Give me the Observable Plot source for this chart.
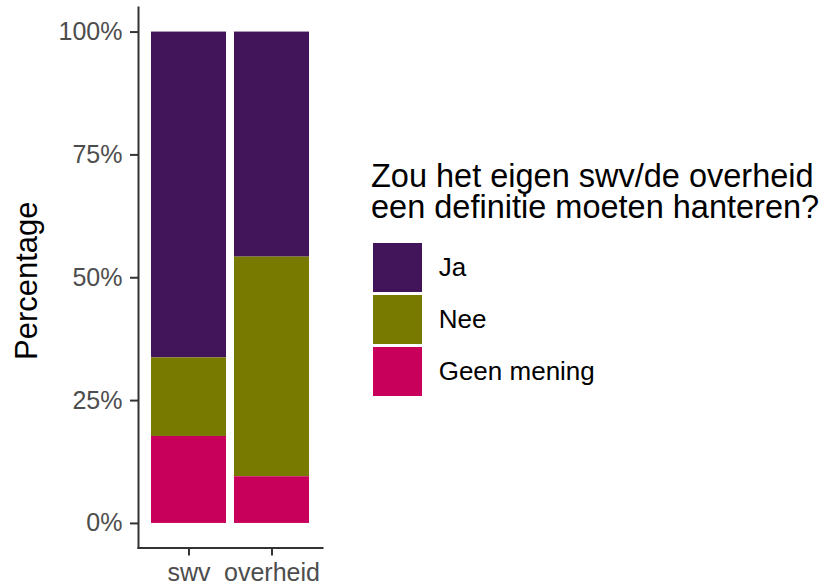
<!DOCTYPE html>
<html><head><meta charset="utf-8">
<script src="https://cdn.jsdelivr.net/npm/d3@7"></script>
<script src="https://cdn.jsdelivr.net/npm/@observablehq/plot@0.6"></script>
<style>
html,body{margin:0;padding:0;background:#fff;}
#wrap{position:relative;width:826px;height:584px;font-family:"Liberation Sans",Arial,sans-serif;overflow:hidden;background:#fff;}
#chart{position:absolute;left:0;top:0;}
#legend{position:absolute;left:371px;top:160.6px;}
.lt{font-size:32.5px;line-height:31.3px;color:#000;white-space:nowrap;}
.rows{margin-top:18.8px;}
.row{display:flex;align-items:center;height:51.7px;}
.key{width:49px;height:49px;margin-left:2px;}
.lab{font-size:26px;margin-left:16.7px;color:#000;white-space:nowrap;}
#chart [aria-label="y-axis tick label"], #chart [aria-label="x-axis tick label"]{fill:#4d4d4d;}
</style>
</head><body>
<div id="wrap"><div id="chart"></div><div id="legend"></div></div>
<script>
// Data
const groups = ["swv", "overheid"];
const answers = ["Ja", "Nee", "Geen mening"];
const ja   = [66.3, 45.8];
const nee  = [16.0, 44.7];
const geen = [17.7, 9.5];
const colors = ["#42155a", "#787a00", "#c9005b"];
const yTicks = [0, 25, 50, 75, 100];
const legendTitle = ["Zou het eigen swv/de overheid", "een definitie moeten hanteren?"];
const yLabel = "Percentage";

const series = [ja, nee, geen];
const data = groups.flatMap((g, i) => answers.map((a, j) => ({group: g, answer: a, value: series[j][i]})));

const chart = Plot.plot({
  width: 330, height: 584,
  marginLeft: 138, marginRight: 8, marginTop: 7, marginBottom: 36.5,
  style: {fontFamily: '"Liberation Sans", Arial, sans-serif', background: "transparent", overflow: "visible"},
  x: {type: "band", domain: groups, paddingInner: 0.1, paddingOuter: 0.15, align: 0.5},
  y: {domain: [-5, 105]},
  color: {domain: answers, range: colors},
  marks: [
    Plot.barY(data, {x: "group", y: "value", fill: "answer", order: ["Geen mening", "Nee", "Ja"]}),
    Plot.frame({anchor: "left", stroke: "#333", strokeWidth: 2}),
    Plot.frame({anchor: "bottom", stroke: "#333", strokeWidth: 2}),
    Plot.axisY({ticks: yTicks, tickFormat: d => d + "%", tickSize: 8, tickPadding: 8, fontSize: 25, stroke: "#333", fill: "#4d4d4d", strokeWidth: 2, label: null}),
    Plot.axisX({tickSize: 8, tickPadding: 7, fontSize: 25, stroke: "#333", fill: "#4d4d4d", strokeWidth: 2, label: null}),
    Plot.text([yLabel], {text: d => d, frameAnchor: "left", textAnchor: "middle", lineAnchor: "middle", rotate: -90, dx: -111, dy: 3, fontSize: 31, fill: "#000"})
  ]
});
document.getElementById("chart").appendChild(chart);

// Legend
const leg = document.getElementById("legend");
const t = document.createElement("div");
t.className = "lt";
t.innerHTML = legendTitle.join("<br>");
leg.appendChild(t);
const rows = document.createElement("div");
rows.className = "rows";
answers.forEach((a, i) => {
  const r = document.createElement("div"); r.className = "row";
  const k = document.createElement("div"); k.className = "key"; k.style.background = colors[i];
  const l = document.createElement("div"); l.className = "lab"; l.textContent = a;
  r.appendChild(k); r.appendChild(l); rows.appendChild(r);
});
leg.appendChild(rows);
</script>
</body></html>
